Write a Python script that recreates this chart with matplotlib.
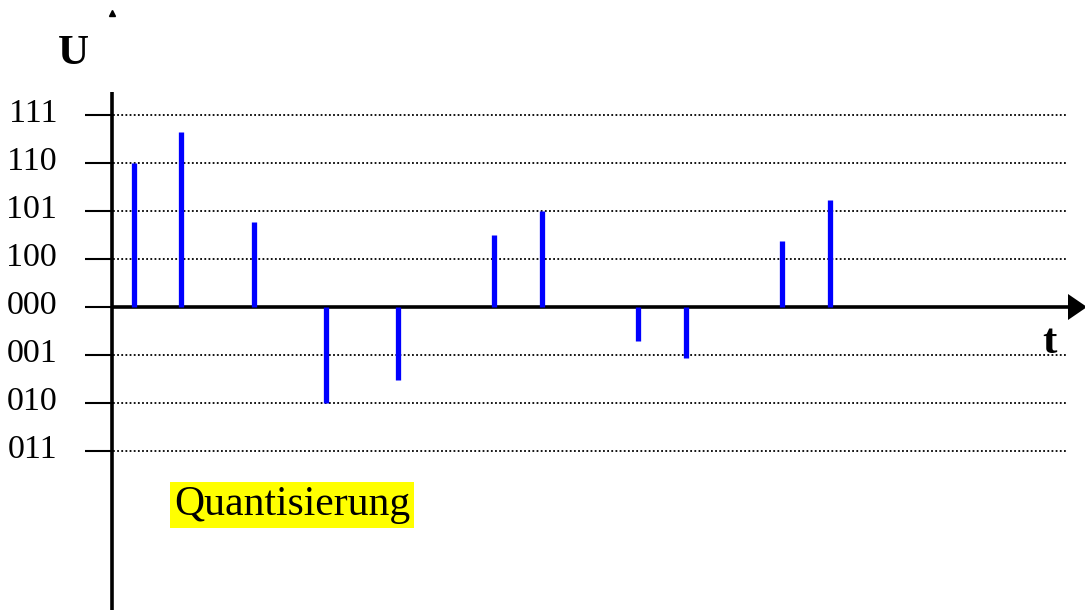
import matplotlib
matplotlib.use('Agg')
import matplotlib.pyplot as plt

# quantisation levels (code word -> level)
codes = ['111', '110', '101', '100', '000', '001', '010', '011']
levels = [4, 3, 2, 1, 0, -1, -2, -3]

# sample instants and sampled values (in level units)
t_samples = [0.92, 2.88, 5.92, 8.92, 11.92, 15.92, 17.92, 21.92, 23.92, 27.92, 29.92]
u_samples = [3.0, 3.64, 1.77, -2.0, -1.52, 1.5, 2.0, -0.71, -1.07, 1.38, 2.23]

# axes in "pixel-like" scale: 24 px per t unit, 48 px per level
fig = plt.figure(figsize=(10.85, 6.10), dpi=100)
ax = fig.add_axes([0, 0, 1, 1])
ax.set_xlim(-112 / 24, (1085 - 112) / 24)
ax.set_ylim(-303 / 48, 307 / 48)
ax.axis('off')

t_end = (1068 - 112) / 24

# dotted grid lines for every level except zero
for lv in levels:
    if lv != 0:
        ax.plot([0.05, t_end], [lv, lv], color='black', lw=1.3,
                linestyle=(0, (1, 1.3)), solid_capstyle='butt')

# tick marks and code labels
for code, lv in zip(codes, levels):
    ax.plot([-27 / 24, 0], [lv, lv], color='black', lw=1.5, solid_capstyle='butt')
    ax.text(-55 / 24, lv + 0.02, code, ha='right', va='center',
            fontsize=24.5, family='Liberation Serif')

# vertical axis
ax.plot([0, 0], [215 / 48, -310 / 48], color='black', lw=2.6, solid_capstyle='butt')
ax.plot([0], [294 / 48], marker='^', color='black', markersize=5)

# horizontal time axis with arrow head
ax.plot([0, t_end], [0, 0], color='black', lw=2.6, solid_capstyle='butt')
ax.fill([t_end, t_end, (1087 - 112) / 24], [13 / 48, -13 / 48, 0], color='black', lw=0)

# sample stems
ax.vlines(t_samples, 0, u_samples, colors='#0000ff', lw=3.8)

# axis labels
ax.text(-39 / 24, 253 / 48, 'U', ha='center', va='center', fontsize=31,
        fontweight='bold', family='Liberation Serif')
ax.text((1049 - 112) / 24, -36 / 48, 't', ha='center', va='center', fontsize=31,
        fontweight='bold', family='Liberation Serif')

ax.text((292 - 112) / 24, -198 / 48, 'Quantisierung', ha='center', va='center',
        fontsize=30, family='Liberation Serif',
        bbox=dict(boxstyle='square,pad=0.1', facecolor='#ffff00', edgecolor='none'))

fig.savefig('out.png', dpi=100)
